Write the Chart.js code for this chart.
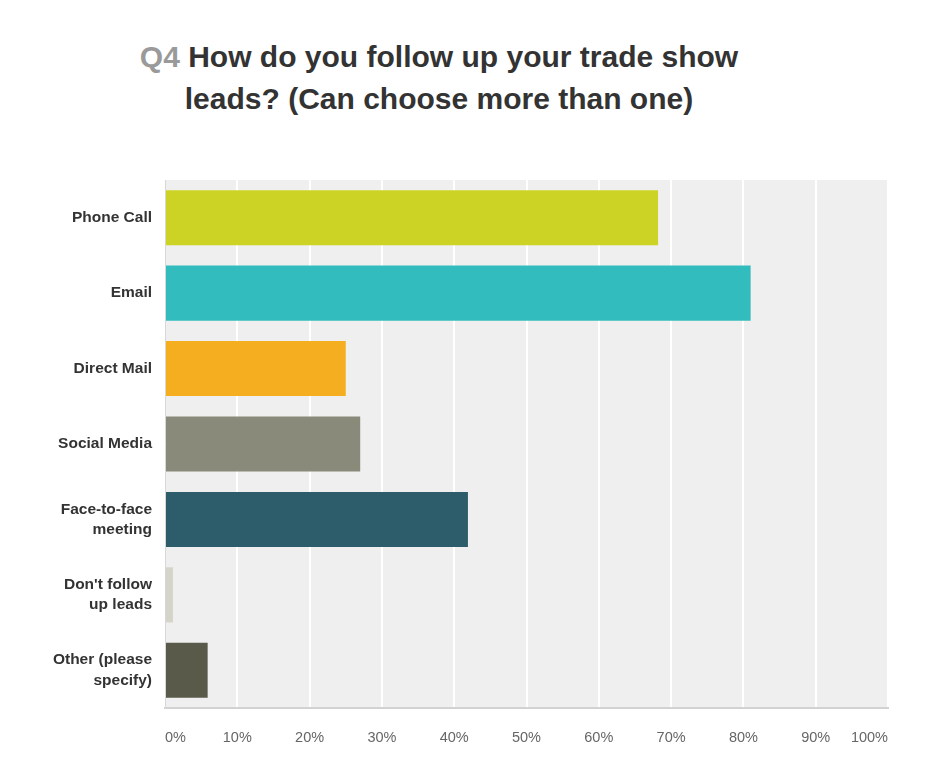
<!DOCTYPE html>
<html>
<head>
<meta charset="utf-8">
<script src="https://cdn.jsdelivr.net/npm/chart.js@4/dist/chart.umd.min.js"></script>
<style>
  html, body { margin: 0; padding: 0; background: #fff; }
  #wrap { position: relative; width: 940px; height: 783px; }
  #title {
    position: absolute; left: 0; top: 36px; width: 878px; text-align: center;
    font-family: "Liberation Sans", Arial, sans-serif; font-weight: bold;
    font-size: 30px; line-height: 42px; color: #333;
  }
  #title .q { color: #9a9a9a; }
  canvas { position: absolute; left: 0; top: 0; }
</style>
</head>
<body>
<div id="wrap">
  <div id="title"><span class="q">Q4</span> How do you follow up your trade show<br>leads? (Can choose more than one)</div>
  <canvas id="chart" width="940" height="783"></canvas>
</div>
<script>
// answer options (multi-line labels as arrays)
var answers = [
  "Phone Call",
  "Email",
  "Direct Mail",
  "Social Media",
  ["Face-to-face", "meeting"],
  ["Don't follow", "up leads"],
  ["Other (please", "specify)"]
];
// percent of respondents
var shares = [68.2, 81.0, 25.0, 27.0, 41.9, 1.1, 5.9];
var barColors = ["#ccd324", "#33bcbd", "#f4ae1f", "#898a7a", "#2d5d6a", "#d4d4c8", "#5a5a4b"];
var xTicks = [0, 10, 20, 30, 40, 50, 60, 70, 80, 90, 100];

// grey plot background
var plotBg = {
  id: 'plotBg',
  beforeDraw: function (chart) {
    var a = chart.chartArea, c = chart.ctx;
    c.save();
    c.fillStyle = '#efefef';
    c.fillRect(a.left, a.top, a.right - a.left, a.bottom - a.top);
    c.restore();
  }
};

var ctx = document.getElementById('chart').getContext('2d');
var myChart = new Chart(ctx, {
  type: 'bar',
  data: {
    labels: answers,
    datasets: [{
      data: shares,
      backgroundColor: barColors,
      borderWidth: 0,
      barPercentage: 0.73,
      categoryPercentage: 1
    }]
  },
  options: {
    indexAxis: 'y',
    responsive: false,
    animation: false,
    layout: { padding: { top: 180, right: 52, bottom: 25, left: 0 } },
    plugins: { legend: { display: false }, tooltip: { enabled: false } },
    scales: {
      x: {
        min: 0, max: 100,
        afterBuildTicks: function (axis) {
          axis.ticks = xTicks.map(function (v) { return { value: v }; });
        },
        afterFit: function (axis) { axis.height = 50; },
        grid: { color: '#ffffff', lineWidth: 2, drawTicks: false },
        border: { color: '#d2d2d2', width: 2 },
        ticks: {
          padding: 21,
          align: 'inner',
          maxRotation: 0,
          autoSkip: false,
          color: '#666',
          font: { family: '"Liberation Sans", Arial, sans-serif', size: 14.5 },
          callback: function (v) { return v + '%'; }
        }
      },
      y: {
        afterFit: function (axis) { axis.width = 165; },
        grid: { display: false },
        border: { color: '#d8d8d8', width: 1 },
        ticks: {
          padding: 5,
          color: '#333',
          font: { family: '"Liberation Sans", Arial, sans-serif', size: 15.5, weight: 'bold', lineHeight: 1.3 }
        }
      }
    }
  },
  plugins: [plotBg]
});
</script>
</body>
</html>
